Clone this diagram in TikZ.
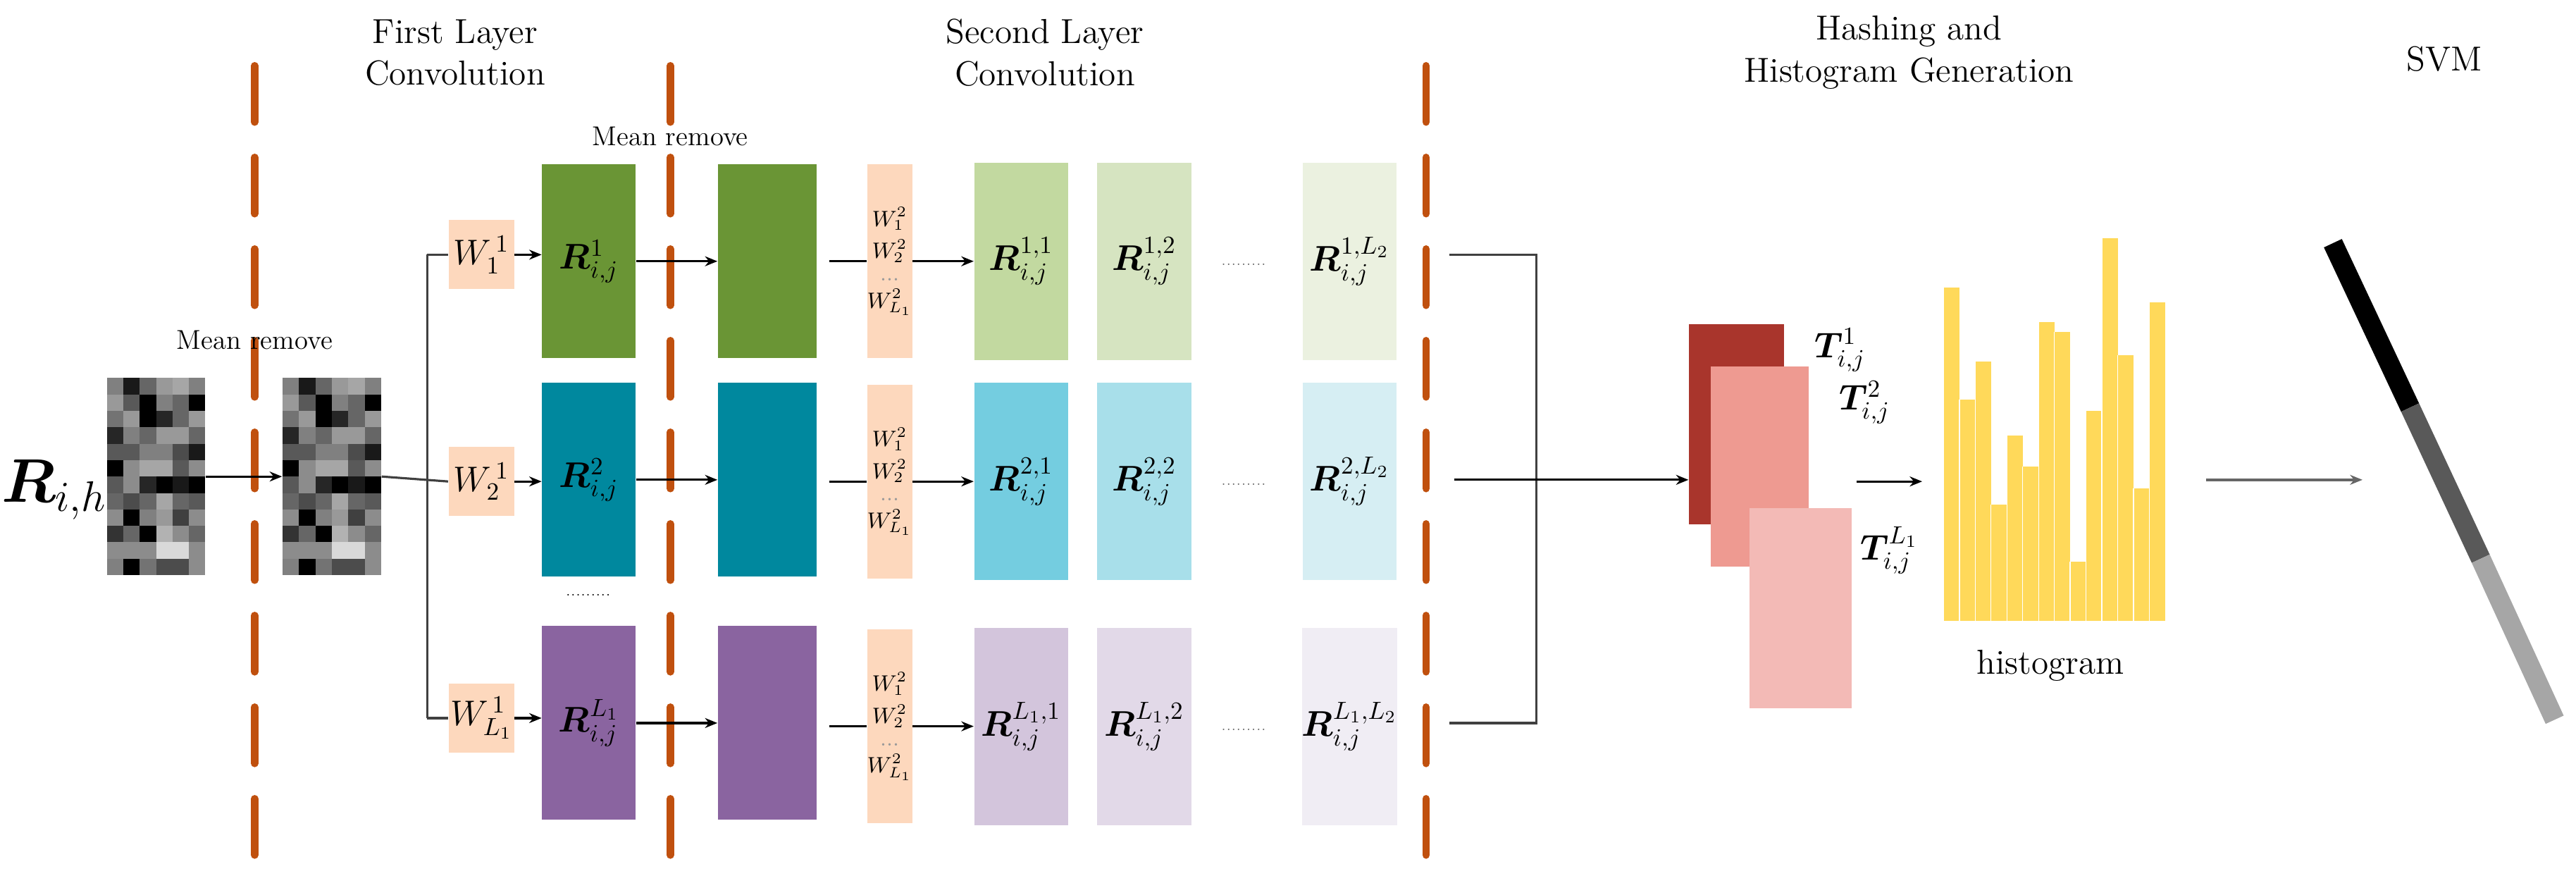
\documentclass[tikz,border=0pt]{standalone}
\usepackage{amsmath,bm}
\usetikzlibrary{arrows.meta}
\definecolor{dorange}{HTML}{C0500E}
\definecolor{peach}{HTML}{FDD8BD}
\definecolor{gA}{HTML}{6A9535}\definecolor{tA}{HTML}{00889E}\definecolor{pA}{HTML}{8A64A0}
\definecolor{gB}{HTML}{C2D9A0}\definecolor{gC}{HTML}{D6E4C1}\definecolor{gD}{HTML}{EBF1E0}
\definecolor{tB}{HTML}{74CDE0}\definecolor{tC}{HTML}{A8DFEA}\definecolor{tD}{HTML}{D6EEF3}
\definecolor{pB}{HTML}{D3C5DC}\definecolor{pC}{HTML}{E2D9E8}\definecolor{pD}{HTML}{F0EDF4}
\definecolor{redA}{HTML}{A9352C}\definecolor{redB}{HTML}{EE9A91}\definecolor{redC}{HTML}{F3BAB6}
\definecolor{hist}{HTML}{FFD95A}
\begin{document}
\begin{tikzpicture}[x=0.023316cm,y=-0.023316cm,
  sep/.style={dorange,line width=3pt,line cap=round,dash pattern=on 0.8cm off 0.5cm},
  title/.style={font=\fontsize{14}{17}\selectfont,align=center},
  mr/.style={font=\fontsize{11}{13}\selectfont},
  boxA/.style={minimum width=1.33cm,minimum height=2.75cm,inner sep=0pt,font=\fontsize{14}{16}\selectfont},
  boxB/.style={minimum width=1.40cm,minimum height=2.75cm,inner sep=0pt},
  boxC/.style={minimum width=1.33cm,minimum height=2.80cm,inner sep=0pt,font=\fontsize{14}{16}\selectfont},
  wbox/.style={fill=peach,minimum width=0.93cm,minimum height=0.98cm,inner sep=0pt,font=\fontsize{14}{16}\selectfont},
  wcol/.style={fill=peach,minimum width=0.54cm,minimum height=2.75cm,inner sep=0pt,font=\fontsize{9}{11}\selectfont,align=center},
  arr/.style={-{Stealth[length=5pt,width=4pt]},line width=0.9pt},
  ln/.style={line width=0.9pt,black!75},
  garr/.style={-{Stealth[length=5pt,width=4pt]},line width=1.2pt,black!60}]
\useasboundingbox (0,0) rectangle (1568,533);
\foreach \xx in {155,408,868}{\draw[sep] (\xx,40) -- (\xx,525);}
\node[title] (t1) at (277,32) {First Layer\\Convolution};
\node[title] (t2) at (636,32) {Second Layer\\Convolution};
\node[title] (t3) at (1162,32) {Hashing and\\Histogram Generation};
\node[title] (t4) at (1488,36) {SVM};
\node[mr] (m1) at (155,207) {Mean remove};
\node[mr] (m2) at (408,83) {Mean remove};
\node[font=\fontsize{24}{26}\selectfont] (Rih) at (33,298) {$\bm{R}_{i,h}$};
\node[minimum width=1.40cm,minimum height=2.80cm,inner sep=0pt] (g1) at (95,290) {};
\node[minimum width=1.40cm,minimum height=2.80cm,inner sep=0pt] (g2) at (202,290) {};
\foreach \gx in {65,172}{
 \foreach \r/\vals in {0/{50,10,40,60,65,50},1/{60,35,0,50,40,0},2/{45,60,0,15,40,60},3/{15,50,40,60,60,40},4/{35,35,50,50,30,10},5/{0,55,65,65,35,55},6/{35,55,15,0,10,0},7/{40,30,40,65,40,35},8/{55,0,50,60,25,55},9/{20,40,0,70,55,40},10/{55,55,55,85,85,55},11/{50,0,45,30,30,55}}{
  \foreach \v [count=\c from 0] in \vals {
   \fill[white!\v!black] (\gx+\c*10,230+\r*10) rectangle ++(10,10);
  }}}
\draw[arr] (g1.east) -- (g2.west);
\node[wbox] (w1) at (293,155) {$W_1^{\,1}$};
\node[wbox] (w2) at (293,293) {$W_2^{\,1}$};
\node[wbox] (w3) at (293,437) {$W_{L_1}^{\,1}$};
\node[boxA,fill=gA] (r1) at (358.5,159) {$\bm{R}^{1}_{i,j}$};
\node[boxA,fill=tA] (r2) at (358.5,292) {$\bm{R}^{2}_{i,j}$};
\node[boxA,fill=pA] (r3) at (358.5,440) {$\bm{R}^{L_1}_{i,j}$};
\node (dots1) at (358,362) {\tiny .........};
\draw[ln] (g2.east) -- (w2.west);
\draw[ln] (260,155) -- (w1.west);
\draw[ln] (260,437) -- (w3.west);
\draw[ln] (260,155) -- (260,437);
\draw[arr] (w1.east) -- (w1.east-|r1.west);
\draw[arr] (w2.east) -- (w2.east-|r2.west);
\draw[arr] (w3.east) -- (w3.east-|r3.west);
\node[boxB,fill=gA] (b1) at (467,159) {};
\node[boxB,fill=tA] (b2) at (467,292) {};
\node[boxB,fill=pA] (b3) at (467,440) {};
\draw[arr] (r1.east) -- (b1.west);
\draw[arr] (r2.east) -- (b2.west);
\draw[arr] (r3.east) -- (b3.west);
\foreach \i/\yy in {1/159,2/293,3/442}{
 \node[wcol] (v\i) at (541.5,\yy) {$W_1^{2}$\\[2pt]$W_2^{2}$\\[-2pt]{\color{black!40}...}\\$W_{L_1}^{2}$};
}
\node[boxC,fill=gB] (c11) at (621.5,159) {$\bm{R}^{1,1}_{i,j}$};
\node[boxC,fill=gC] (c12) at (696.5,159) {$\bm{R}^{1,2}_{i,j}$};
\node[boxC,fill=gD] (c13) at (821.5,159) {$\bm{R}^{1,L_2}_{i,j}$};
\node[boxC,fill=tB] (c21) at (621.5,293) {$\bm{R}^{2,1}_{i,j}$};
\node[boxC,fill=tC] (c22) at (696.5,293) {$\bm{R}^{2,2}_{i,j}$};
\node[boxC,fill=tD] (c23) at (821.5,293) {$\bm{R}^{2,L_2}_{i,j}$};
\node[boxC,fill=pB] (c31) at (621.5,442) {$\bm{R}^{L_1,1}_{i,j}$};
\node[boxC,fill=pC] (c32) at (696.5,442) {$\bm{R}^{L_1,2}_{i,j}$};
\node[boxC,fill=pD] (c33) at (821.5,442) {$\bm{R}^{L_1,L_2}_{i,j}$};
\foreach \yy in {159,293,442}{\node[text=black!60] at (757,\yy+2) {\tiny .........};}
\foreach \i/\yy in {1/159,2/293,3/442}{
 \draw[ln,black] (505,\yy) -- (v\i.west);
 \draw[arr] (v\i.east) -- (c\i1.west);
}
\coordinate (m1a) at (882,155);
\coordinate (m3a) at (882,440);
\draw[ln] (m1a) -- (935,155) -- (935,440) -- (m3a);
\node[minimum width=1.35cm,minimum height=2.84cm,inner sep=0pt,fill=redA] (T1) at (1057,258) {};
\node[minimum width=1.39cm,minimum height=2.84cm,inner sep=0pt,fill=redB] (T2) at (1071,284) {};
\node[minimum width=1.45cm,minimum height=2.84cm,inner sep=0pt,fill=redC] (T3) at (1096,370) {};
\coordinate (mid) at (885,292);
\draw[arr] (mid) -- (T1.west|-mid);
\node[font=\fontsize{14}{16}\selectfont] (l1) at (1120,213) {$\bm{T}^{1}_{i,j}$};
\node[font=\fontsize{14}{16}\selectfont] (l2) at (1135,245) {$\bm{T}^{2}_{i,j}$};
\node[font=\fontsize{14}{16}\selectfont] (l3) at (1150,335) {$\bm{T}^{L_1}_{i,j}$};
\foreach \t [count=\k from 0] in {175,243,220,307,265,284,196,202,342,250,145,216,297,184}{
 \fill[hist] (1183+\k*9.64,378) rectangle ++(9.64,\t-378);
 \draw[white,line width=0.4pt] (1183+\k*9.64,378) -- ++(0,\t-378);
}
\coordinate (hl) at (1130,293);
\coordinate (hr) at (1170,293);
\draw[arr] (hl) -- (hr);
\node[font=\fontsize{14}{16}\selectfont] (hlab) at (1248,405) {histogram};
\coordinate (sv) at (1343,292);
\coordinate (svb) at (1438,292);
\draw[garr] (sv) -- (svb);
\coordinate (s0) at (1420,148);
\coordinate (s1) at (1467,248);
\coordinate (s2) at (1510,340);
\coordinate (s3) at (1555,438);
\draw[line width=8pt,black] (s0) -- (s1);
\draw[line width=8pt,black!65] (s1) -- (s2);
\draw[line width=8pt,black!35] (s2) -- (s3);
\end{tikzpicture}
\end{document}
